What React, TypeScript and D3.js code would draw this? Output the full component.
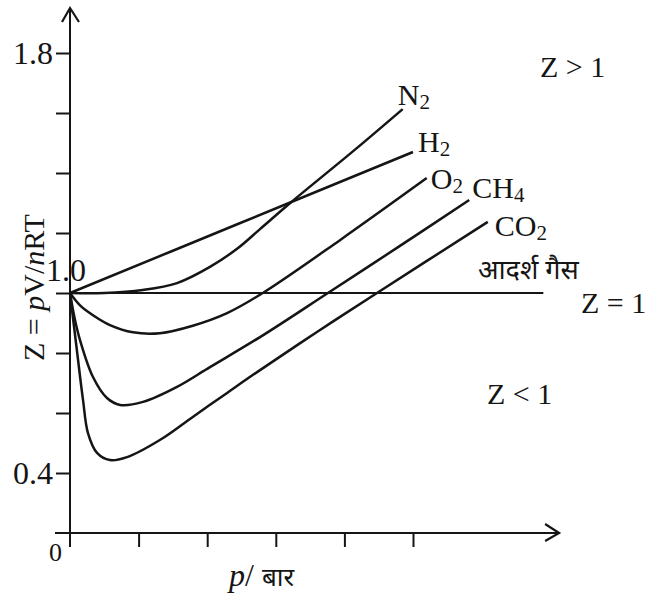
import React, { useEffect, useRef } from 'react';
import * as d3 from 'd3';

const W = 651, H = 597;

// pressure in tick units (ticks unlabelled in the figure), Z
const pN2 = [0, 0.5, 1.06, 1.56, 2.04, 2.45, 2.77, 3.21, 4.15, 4.85];
const zN2 = [1, 1.0, 1.01, 1.033, 1.087, 1.15, 1.213, 1.3, 1.477, 1.613];

const pH2 = [0, 2.5, 5.0];
const zH2 = [1, 1.235, 1.47];

const pO2 = [0, 0.15, 0.335, 0.583, 0.918, 1.31, 1.79, 2.29, 2.81, 3.94, 5.2];
const zO2 = [1, 0.958, 0.926, 0.893, 0.869, 0.866, 0.891, 0.933, 1.0, 1.177, 1.383];

const pCH4 = [0, 0.073, 0.146, 0.335, 0.539, 0.729, 1.064, 1.56, 2.04, 2.77, 3.76, 4.81, 5.82];
const zCH4 = [1, 0.91, 0.843, 0.72, 0.65, 0.627, 0.637, 0.687, 0.753, 0.853, 1.0, 1.157, 1.31];

const pCO2 = [0, 0.1, 0.19, 0.262, 0.394, 0.583, 0.831, 1.31, 1.79, 2.29, 2.77, 3.6, 4.475, 6.09];
const zCO2 = [1, 0.81, 0.643, 0.533, 0.467, 0.443, 0.453, 0.51, 0.587, 0.667, 0.743, 0.87, 1.0, 1.237];

const gasNames = ['N', 'H', 'O', 'CH', 'CO'];
const gasSubs = ['2', '2', '2', '4', '2'];

const idealP = [0, 6.9];
const idealZ = [1, 1];

const yTicks = [0.4, 0.6, 0.8, 1.0, 1.2, 1.4, 1.6, 1.8];
const yTickLabels = ['0.4', '', '', '', '', '', '', '1.8'];
const xTicks = [1, 2, 3, 4, 5];

const SERIF = '"Liberation Serif", "DejaVu Serif", serif';
const DEVA = '"Noto Sans Devanagari", "Noto Serif Devanagari", "Lohit Devanagari", "FreeSerif", serif';
const INK = '#151515';

export default function App() {
  const ref = useRef<SVGSVGElement>(null);

  useEffect(() => {
    const svg = d3.select(ref.current);
    svg.selectAll('*').remove();

    const x = d3.scaleLinear().domain([0, 5]).range([70, 413]);
    const y = d3.scaleLinear().domain([0.4, 1.8]).range([473, 53]);

    const g = svg.append('g');

    // axes
    const yAxis = g.append('g')
      .attr('transform', 'translate(' + x(0) + ',0)')
      .call(d3.axisLeft(y).tickValues(yTicks).tickSize(14).tickPadding(3)
        .tickFormat((d, i) => yTickLabels[i]));
    yAxis.select('.domain').remove();
    yAxis.selectAll('line').attr('stroke', INK).attr('stroke-width', 2);
    yAxis.selectAll('text')
      .attr('fill', INK)
      .style('font', '32px ' + SERIF);

    const xAxis = g.append('g')
      .attr('transform', 'translate(0,' + y(0.2) + ')')
      .call(d3.axisBottom(x).tickValues(xTicks).tickSize(14).tickFormat(() => ''));
    xAxis.select('.domain').remove();
    xAxis.selectAll('line').attr('stroke', INK).attr('stroke-width', 2);

    const axisTop = 1.95, axisRight = 7.13;
    g.append('line')
      .attr('x1', x(0)).attr('x2', x(0))
      .attr('y1', y(0.2) + 14).attr('y2', y(axisTop))
      .attr('stroke', INK).attr('stroke-width', 2);
    g.append('line')
      .attr('x1', x(0) - 15).attr('x2', x(axisRight))
      .attr('y1', y(0.2)).attr('y2', y(0.2))
      .attr('stroke', INK).attr('stroke-width', 2);

    // arrow heads
    g.append('path')
      .attr('d', `M${x(0) - 8},${y(axisTop) + 14}L${x(0)},${y(axisTop)}L${x(0) + 9},${y(axisTop) + 14}`)
      .attr('fill', 'none').attr('stroke', INK).attr('stroke-width', 2.2);
    g.append('path')
      .attr('d', `M${x(axisRight) - 14},${y(0.2) - 9}L${x(axisRight)},${y(0.2)}L${x(axisRight) - 14},${y(0.2) + 8}`)
      .attr('fill', 'none').attr('stroke', INK).attr('stroke-width', 2.2);

    // ideal gas line
    g.append('line')
      .attr('x1', x(idealP[0])).attr('x2', x(idealP[1]))
      .attr('y1', y(idealZ[0])).attr('y2', y(idealZ[1]))
      .attr('stroke', INK).attr('stroke-width', 2);

    const line = d3.line<[number, number]>()
      .curve(d3.curveCatmullRom.alpha(0.5))
      .x(d => x(d[0]))
      .y(d => y(d[1]));

    const series = [
      [pN2, zN2], [pH2, zH2], [pO2, zO2], [pCH4, zCH4], [pCO2, zCO2]
    ].map(([ps, zs]) => ps.map((p, i) => [p, zs[i]] as [number, number]));

    g.selectAll('.gas')
      .data(series)
      .enter().append('path')
      .attr('class', 'gas')
      .attr('fill', 'none')
      .attr('stroke', INK)
      .attr('stroke-width', 2.5)
      .attr('stroke-linejoin', 'round')
      .attr('d', d => line(d));

    // gas labels next to the line ends
    const labelOffset = [[-5, -4], [5, 0], [4, 11], [3, -2], [7, 14]];
    series.forEach((pts, i) => {
      const last = pts[pts.length - 1];
      const t = g.append('text')
        .attr('x', x(last[0]) + labelOffset[i][0])
        .attr('y', y(last[1]) + labelOffset[i][1])
        .attr('fill', INK)
        .style('font', '30px ' + SERIF);
      t.append('tspan').text(gasNames[i]);
      t.append('tspan').attr('dy', 4).style('font-size', '21px').text(gasSubs[i]);
    });

    const txt = (s: string, tx: number, ty: number, size = 31, fam = SERIF) =>
      g.append('text').attr('x', tx).attr('y', ty).attr('fill', INK)
        .style('font', size + 'px ' + fam).text(s);

    txt('1.0', 46, y(1.0) - 12, 32);
    txt('0', 49, 561, 26);
    txt('Z > 1', 540, 77, 30);
    txt('Z < 1', 487, 404, 30);
    txt('Z = 1', 581, 313, 30);
    txt('आदर्श गैस', 478, 279, 27, DEVA);

    // y title
    const yt = g.append('text')
      .attr('transform', 'translate(44,' + 361 + ') rotate(-90)')
      .attr('fill', INK)
      .style('font', '30px ' + SERIF);
    yt.append('tspan').text('Z = ');
    yt.append('tspan').style('font-style', 'italic').text('p');
    yt.append('tspan').text('V/');
    yt.append('tspan').style('font-style', 'italic').text('n');
    yt.append('tspan').text('RT');

    // x title
    const xt = g.append('text')
      .attr('x', 229).attr('y', 586)
      .attr('fill', INK)
      .style('font', '32px ' + SERIF);
    xt.append('tspan').style('font-style', 'italic').text('p');
    xt.append('tspan').text('/ ');
    xt.append('tspan').style('font', '26px ' + DEVA).text('बार');
  }, []);

  return (
    <svg ref={ref} width={W} height={H}
      style={{ position: 'absolute', left: 0, top: 0, background: '#fff' }} />
  );
}
